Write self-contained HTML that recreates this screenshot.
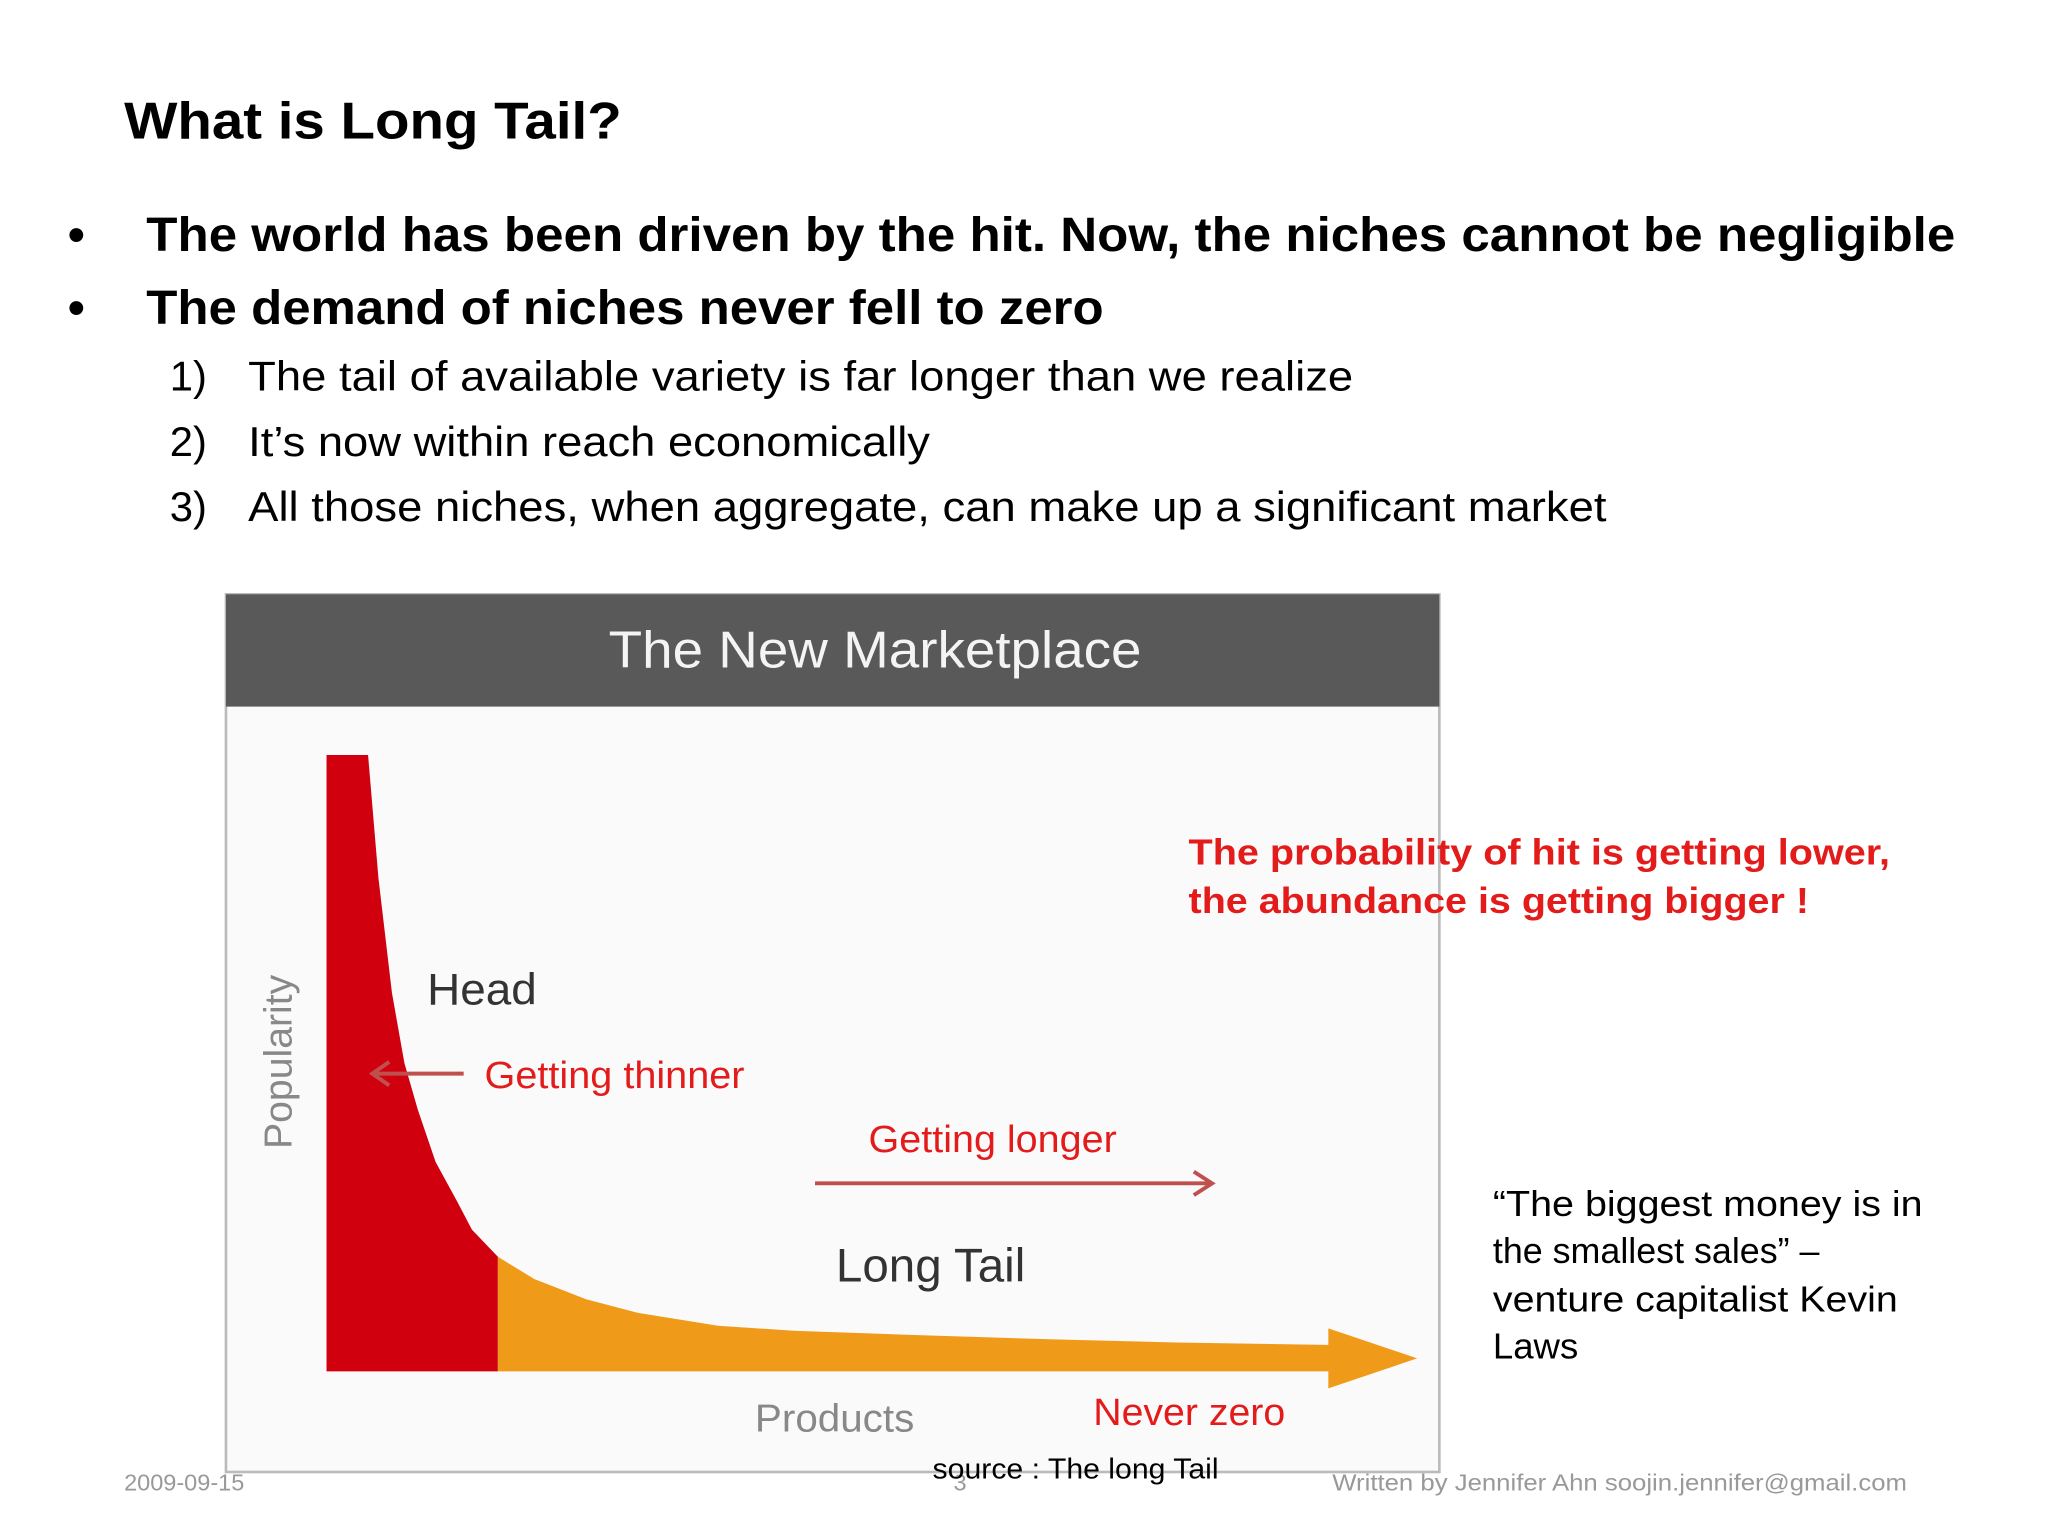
<!DOCTYPE html>
<html><head><meta charset="utf-8"><style>
html,body{margin:0;padding:0;background:#fff;}
svg{display:block;}
text{font-family:"Liberation Sans",sans-serif;}
</style></head><body>
<svg width="2048" height="1536" viewBox="0 0 1568 1176" xmlns="http://www.w3.org/2000/svg">
<text x="95" y="106" font-size="40" font-weight="bold" fill="#000" textLength="381" lengthAdjust="spacingAndGlyphs">What is Long Tail?</text>
<g font-size="37" font-weight="bold" fill="#000">
<text x="52" y="192">•</text>
<text x="112" y="192" textLength="1385" lengthAdjust="spacingAndGlyphs">The world has been driven by the hit. Now, the niches cannot be negligible</text>
<text x="52" y="248">•</text>
<text x="112" y="248" textLength="733" lengthAdjust="spacingAndGlyphs">The demand of niches never fell to zero</text>
</g>
<g font-size="32" fill="#000">
<text x="130" y="299">1)</text><text x="190" y="299" textLength="846" lengthAdjust="spacingAndGlyphs">The tail of available variety is far longer than we realize</text>
<text x="130" y="349">2)</text><text x="190" y="349" textLength="522" lengthAdjust="spacingAndGlyphs">It’s now within reach economically</text>
<text x="130" y="399">3)</text><text x="190" y="399" textLength="1040" lengthAdjust="spacingAndGlyphs">All those niches, when aggregate, can make up a significant market</text>
</g>
<g>
<rect x="173" y="455" width="929" height="672" fill="#fafafa" stroke="#bbb" stroke-width="2"/>
<rect x="173" y="455" width="929" height="86" fill="#595959"/>
<text x="466" y="511" font-size="40" fill="#f4f4f4" textLength="408" lengthAdjust="spacingAndGlyphs">The New Marketplace</text>
<g id="marks"></g>
<text x="223" y="813" font-size="30" fill="#888" text-anchor="middle" transform="rotate(-90 223 813)">Popularity</text>
<text x="578" y="1096" font-size="30" fill="#888" textLength="122" lengthAdjust="spacingAndGlyphs">Products</text>
<text x="327" y="769" font-size="34" fill="#333" textLength="84" lengthAdjust="spacingAndGlyphs">Head</text>
<text x="640" y="981" font-size="36" fill="#333" textLength="145" lengthAdjust="spacingAndGlyphs">Long Tail</text>
</g>
<g>
<line x1="355" y1="822" x2="288" y2="822" stroke="#c0504d" stroke-width="3"/>
<polyline points="298,813 285,822 298,831" fill="none" stroke="#c0504d" stroke-width="3"/>
<text x="371" y="833" font-size="29" fill="#e31b1b" textLength="199" lengthAdjust="spacingAndGlyphs">Getting thinner</text>
<text x="665" y="882" font-size="29" fill="#e31b1b" textLength="190" lengthAdjust="spacingAndGlyphs">Getting longer</text>
<line x1="624" y1="906" x2="926" y2="906" stroke="#c0504d" stroke-width="3"/>
<polyline points="914,897 928,906 914,915" fill="none" stroke="#c0504d" stroke-width="3"/>
<text x="837" y="1091" font-size="29" fill="#e31b1b" textLength="147" lengthAdjust="spacingAndGlyphs">Never zero</text>
<text x="910" y="662" font-size="28" font-weight="bold" fill="#e31b1b" textLength="537" lengthAdjust="spacingAndGlyphs">The probability of hit is getting lower,</text>
<text x="910" y="699" font-size="28" font-weight="bold" fill="#e31b1b" textLength="475" lengthAdjust="spacingAndGlyphs">the abundance is getting bigger !</text>
<g font-size="28" fill="#000">
<text x="1143" y="931" textLength="329" lengthAdjust="spacingAndGlyphs">“The biggest money is in</text>
<text x="1143" y="967" textLength="250" lengthAdjust="spacingAndGlyphs">the smallest sales” –</text>
<text x="1143" y="1004" textLength="310" lengthAdjust="spacingAndGlyphs">venture capitalist Kevin</text>
<text x="1143" y="1040">Laws</text>
</g>
<text x="95" y="1141" font-size="18" fill="#999">2009-09-15</text>
<text x="730" y="1141" font-size="18" fill="#999">3</text>
<text x="714" y="1132" font-size="22" fill="#000" textLength="219" lengthAdjust="spacingAndGlyphs">source : The long Tail</text>
<text x="1020" y="1141" font-size="18" fill="#999" textLength="440" lengthAdjust="spacingAndGlyphs">Written by Jennifer Ahn soojin.jennifer@gmail.com</text>
</g>
</svg>
<script>
const ranks = [0, 4, 5, 6.3, 7.5, 8.8, 10.5, 12.6, 14, 16.5, 20, 25, 30, 37.7, 45, 56.6, 70, 81.8, 100];
const popularity = [100, 100, 80, 61.4, 50, 42.4, 34, 27.5, 23, 18.6, 15, 11.7, 9.5, 7.4, 6.6, 5.9, 5.2, 4.7, 4.2];
const headEnd = 16.5;
const xs = r => 250 + r * 7.95;
const ys = p => 1050 - p * 4.72;
const g = document.getElementById('marks');
const NS = 'http://www.w3.org/2000/svg';
function curve(from, to) {
  const pts = [];
  for (let i = 0; i < ranks.length; i++) if (ranks[i] >= from && ranks[i] <= to) pts.push([xs(ranks[i]), ys(popularity[i])]);
  return pts;
}
const head = curve(0, headEnd);
let d = 'M' + xs(0) + ',1050 L' + head.map(p => p.join(',')).join(' L') + ' L' + xs(headEnd) + ',1050 Z';
const hp = document.createElementNS(NS, 'path');
hp.setAttribute('d', d);
hp.setAttribute('fill', '#d0000f');


g.appendChild(hp);
const tail = curve(headEnd, 100);
let d2 = 'M' + xs(headEnd) + ',1050 L' + tail.map(p => p.join(',')).join(' L') +
  ' L1017,' + ys(popularity[popularity.length - 1]) + ' L1017,1017 L1085,1040 L1017,1063 L1017,1050 Z';
const tp = document.createElementNS(NS, 'path');
tp.setAttribute('d', d2);
tp.setAttribute('fill', '#f09a1a');


g.appendChild(tp);
</script>
</body></html>
